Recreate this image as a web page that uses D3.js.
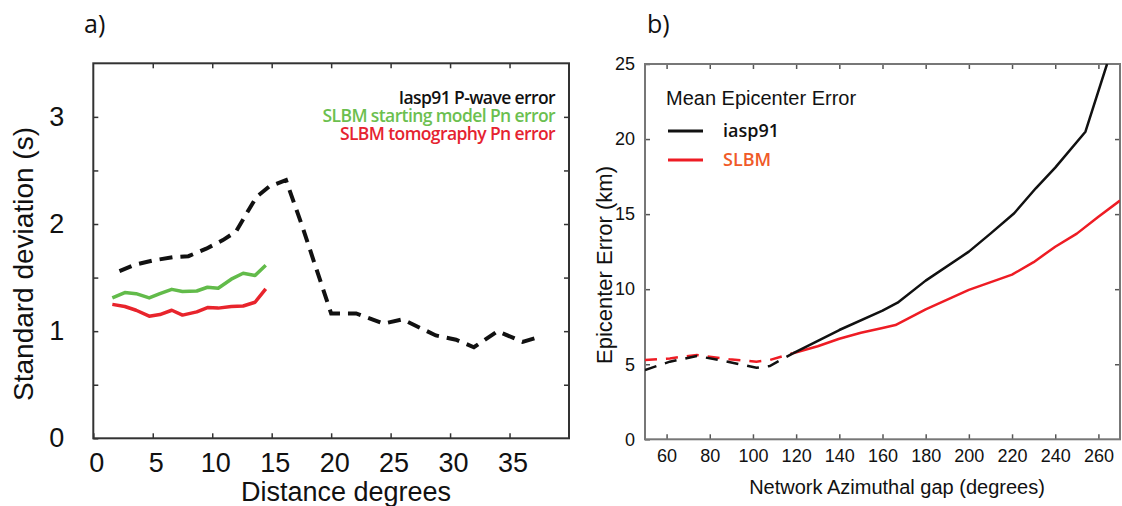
<!DOCTYPE html>
<html>
<head>
<meta charset="utf-8">
<script src="https://cdn.jsdelivr.net/npm/d3@7"></script>
<style>
  body { margin: 0; background: #fff; }
  svg { display: block; }
</style>
</head>
<body>
<div id="chart"></div>
<script>
// ---- panel a: travel-time residual standard deviation vs distance ----
const distIasp = [2.2, 3.5, 5.0, 6.7, 8.0, 9.5, 10.9, 12.0, 12.9, 13.7, 14.8, 16.2, 17.6, 18.7, 20.0, 22.1, 24.4, 26.0, 28.8, 30.5, 32.0, 34.0, 36.1, 37.6];
const iaspStd   = [1.56, 1.62, 1.66, 1.69, 1.70, 1.77, 1.85, 1.93, 2.10, 2.25, 2.35, 2.41, 1.97, 1.60, 1.165, 1.165, 1.07, 1.11, 0.96, 0.92, 0.85, 1.0, 0.90, 0.95];

const distPn        = [1.6, 2.65, 3.6, 4.7, 5.6, 6.6, 7.5, 8.7, 9.6, 10.5, 11.6, 12.6, 13.6, 14.5];
const startingPnStd = [1.31, 1.36, 1.35, 1.31, 1.35, 1.39, 1.37, 1.375, 1.41, 1.40, 1.485, 1.54, 1.52, 1.615];
const tomoPnStd     = [1.25, 1.23, 1.195, 1.14, 1.155, 1.195, 1.15, 1.18, 1.22, 1.215, 1.23, 1.235, 1.27, 1.395];

const legendA = ["Iasp91 P-wave error", "SLBM starting model Pn error", "SLBM tomography Pn error"];

// ---- panel b: mean epicenter error vs azimuthal gap ----
const gapIasp = [50, 61.5, 74, 86, 101.6, 107.8, 118.5, 140, 160, 167, 180, 200, 210, 221, 231, 240, 254, 264];
const errIasp = [4.62, 5.17, 5.55, 5.24, 4.77, 4.88, 5.73, 7.28, 8.57, 9.1, 10.57, 12.5, 13.7, 15.06, 16.72, 18.1, 20.49, 25.0];
const gapSlbm = [50, 61.5, 74, 89, 101.6, 107.8, 118.5, 130, 140, 150, 160, 166, 180, 200, 220, 230, 240, 250, 260, 270];
const errSlbm = [5.28, 5.39, 5.62, 5.33, 5.17, 5.28, 5.73, 6.2, 6.7, 7.1, 7.42, 7.61, 8.66, 9.95, 10.97, 11.8, 12.83, 13.7, 14.83, 15.9];
const dashedUpTo = 118.5; // below this gap the curves are drawn dashed

const legendB = ["iasp91", "SLBM"];

const width = 1122, height = 506;
const sans = "'Liberation Sans', Arial, sans-serif";
const human = "'Open Sans', sans-serif";

const svg = d3.select("#chart").append("svg")
  .attr("width", width)
  .attr("height", height);

const zip = (xs, ys) => xs.map((x, i) => ({ x, y: ys[i] }));

// ================= panel a =================
const xA = d3.scaleLinear().domain([0, 40]).range([93.3, 569]);
const yA = d3.scaleLinear().domain([0, 3.5]).range([438.3, 63.3]);

const gA = svg.append("g");

// ticks pointing inward on all four sides
const styleAxis = (sel, size, color) => {
  sel.select(".domain").remove();
  sel.selectAll(".tick line").attr("stroke", color).attr("stroke-width", 1.5);
  sel.selectAll(".tick text").attr("font-family", sans).attr("font-size", size).attr("fill", "#111");
};

gA.append("g")
  .attr("transform", `translate(0,${yA(0)})`)
  .call(d3.axisBottom(xA).tickValues(d3.range(0, 40, 5)).tickSize(-5).tickPadding(15))
  .call(s => styleAxis(s, 27, "#333"))
  .selectAll(".tick text").attr("dx", 3);

gA.append("g")
  .attr("transform", `translate(0,${yA(3.5)})`)
  .call(d3.axisTop(xA).tickValues(d3.range(5, 40, 5)).tickSize(-5).tickFormat(""))
  .call(s => styleAxis(s, 27, "#333"));

gA.append("g")
  .attr("transform", `translate(${xA(0)},0)`)
  .call(d3.axisLeft(yA).tickValues(d3.range(0, 3.5, 0.5)).tickSize(-5).tickPadding(29)
    .tickFormat(d => Number.isInteger(d) ? d : ""))
  .call(s => styleAxis(s, 27, "#333"));

gA.append("g")
  .attr("transform", `translate(${xA(40)},0)`)
  .call(d3.axisRight(yA).tickValues(d3.range(0.5, 3.5, 0.5)).tickSize(-5).tickFormat(""))
  .call(s => styleAxis(s, 27, "#333"));

gA.append("rect")
  .attr("x", xA(0)).attr("y", yA(3.5))
  .attr("width", xA(40) - xA(0)).attr("height", yA(0) - yA(3.5))
  .attr("fill", "none").attr("stroke", "#333").attr("stroke-width", 2);

const lineA = d3.line().x(d => xA(d.x)).y(d => yA(d.y));

gA.append("path")
  .attr("d", lineA(zip(distPn, startingPnStd)))
  .attr("fill", "none").attr("stroke", "#62bb4a").attr("stroke-width", 3.5)
  .attr("stroke-linejoin", "round");

gA.append("path")
  .attr("d", lineA(zip(distPn, tomoPnStd)))
  .attr("fill", "none").attr("stroke", "#e8242c").attr("stroke-width", 3.5)
  .attr("stroke-linejoin", "round");

gA.append("path")
  .attr("d", lineA(zip(distIasp, iaspStd)))
  .attr("fill", "none").attr("stroke", "#111").attr("stroke-width", 4)
  .attr("stroke-dasharray", "13,8");

// legend (text only, right aligned, tightly stacked)
const legendColorsA = ["#111", "#6cbf4f", "#e52330"];
gA.selectAll(".legA")
  .data(legendA)
  .join("text")
  .attr("class", "legA")
  .attr("x", 555)
  .attr("y", (d, i) => 104 + i * 18)
  .attr("text-anchor", "end")
  .attr("font-family", human)
  .attr("font-size", 17.5)
  .attr("font-weight", 600)
  .attr("letter-spacing", -0.6)
  .attr("fill", (d, i) => legendColorsA[i])
  .text(d => d);

// axis titles
gA.append("text")
  .attr("x", 346).attr("y", 501)
  .attr("text-anchor", "middle")
  .attr("font-family", sans).attr("font-size", 27).attr("fill", "#111")
  .text("Distance degrees");

gA.append("text")
  .attr("transform", "translate(33,264) rotate(-90)")
  .attr("text-anchor", "middle")
  .attr("font-family", sans).attr("font-size", 28).attr("fill", "#111")
  .text("Standard deviation (s)");

gA.append("text")
  .attr("x", 84).attr("y", 33)
  .attr("font-family", human).attr("font-size", 25).attr("fill", "#111")
  .text("a)");

// ================= panel b =================
const xB = d3.scaleLinear().domain([50, 270]).range([645, 1120]);
const yB = d3.scaleLinear().domain([0, 25]).range([439.3, 64]);

const gB = svg.append("g");

gB.append("g")
  .attr("transform", `translate(0,${yB(0)})`)
  .call(d3.axisBottom(xB).tickValues(d3.range(60, 270, 20)).tickSize(-5).tickPadding(10))
  .call(s => styleAxis(s, 18, "#555"));

gB.append("g")
  .attr("transform", `translate(0,${yB(25)})`)
  .call(d3.axisTop(xB).tickValues(d3.range(60, 270, 20)).tickSize(-5).tickFormat(""))
  .call(s => styleAxis(s, 18, "#555"));

gB.append("g")
  .attr("transform", `translate(${xB(50)},0)`)
  .call(d3.axisLeft(yB).tickValues(d3.range(0, 26, 5)).tickSize(-5).tickPadding(10))
  .call(s => styleAxis(s, 18, "#555"));

gB.append("g")
  .attr("transform", `translate(${xB(270)},0)`)
  .call(d3.axisRight(yB).tickValues(d3.range(5, 25, 5)).tickSize(-5).tickFormat(""))
  .call(s => styleAxis(s, 18, "#555"));

gB.append("rect")
  .attr("x", xB(50)).attr("y", yB(25))
  .attr("width", xB(270) - xB(50)).attr("height", yB(0) - yB(25))
  .attr("fill", "none").attr("stroke", "#777").attr("stroke-width", 2);

svg.append("clipPath").attr("id", "clipB")
  .append("rect")
  .attr("x", xB(50)).attr("y", yB(25))
  .attr("width", xB(270) - xB(50)).attr("height", yB(0) - yB(25));

const lineB = d3.line().x(d => xB(d.x)).y(d => yB(d.y));
const plotB = gB.append("g").attr("clip-path", "url(#clipB)");

const seriesB = [
  { pts: zip(gapSlbm, errSlbm), color: "#ee1c24" },
  { pts: zip(gapIasp, errIasp), color: "#111" }
];

seriesB.forEach(s => {
  plotB.append("path")
    .attr("d", lineB(s.pts.filter(d => d.x <= dashedUpTo)))
    .attr("fill", "none").attr("stroke", s.color).attr("stroke-width", 2.5)
    .attr("stroke-dasharray", "12,9");
  plotB.append("path")
    .attr("d", lineB(s.pts.filter(d => d.x >= dashedUpTo)))
    .attr("fill", "none").attr("stroke", s.color).attr("stroke-width", 2.5)
    .attr("stroke-linejoin", "round");
});

// legend
gB.append("text")
  .attr("x", 666).attr("y", 105)
  .attr("font-family", sans).attr("font-size", 20).attr("fill", "#111")
  .text("Mean Epicenter Error");

const legendColorsB = ["#111", "#ee1c24"];
const legendTextColorsB = ["#111", "#f05a28"];
legendB.forEach((name, i) => {
  const yy = 131 + i * 29;
  gB.append("line")
    .attr("x1", 668).attr("x2", 703).attr("y1", yy).attr("y2", yy)
    .attr("stroke", legendColorsB[i]).attr("stroke-width", 3);
  gB.append("text")
    .attr("x", 723).attr("y", yy + 6)
    .attr("font-family", human).attr("font-size", 18).attr("font-weight", 600)
    .attr("fill", legendTextColorsB[i])
    .text(name);
});

gB.append("text")
  .attr("x", 897).attr("y", 494)
  .attr("text-anchor", "middle")
  .attr("font-family", sans).attr("font-size", 20).attr("fill", "#111")
  .text("Network Azimuthal gap (degrees)");

gB.append("text")
  .attr("transform", "translate(612,265) rotate(-90)")
  .attr("text-anchor", "middle")
  .attr("font-family", sans).attr("font-size", 22).attr("fill", "#111")
  .text("Epicenter Error (km)");

gB.append("text")
  .attr("x", 647).attr("y", 33)
  .attr("font-family", human).attr("font-size", 25).attr("fill", "#111")
  .text("b)");
</script>
</body>
</html>
